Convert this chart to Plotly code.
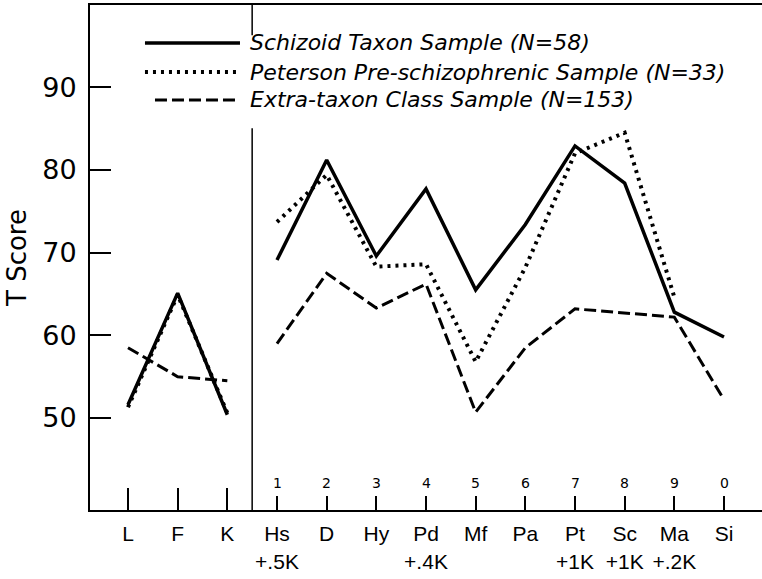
import plotly.graph_objects as go

# ---- data ----
scales = ["L", "F", "K", "Hs", "D", "Hy", "Pd", "Mf", "Pa", "Pt", "Sc", "Ma", "Si"]
k_corr = ["", "", "", "+.5K", "", "", "+.4K", "", "", "+1K", "+1K", "+.2K", ""]
scale_nums = ["", "", "", "1", "2", "3", "4", "5", "6", "7", "8", "9", "0"]
y_ticks = [50, 60, 70, 80, 90]

schizoid = [51.6, 65.1, 50.4, 69.1, 81.2, 69.6, 77.7, 65.5, 73.4, 82.9, 78.4, 62.8, 59.8]
peterson = [51.3, 64.9, 50.6, 73.7, 79.4, 68.3, 68.6, 56.8, 68.2, 82.0, 84.5, 64.6, None]
extra = [58.5, 55.0, 54.5, 59.0, 67.5, 63.3, 66.2, 50.7, 58.5, 63.2, 62.7, 62.2, 52.2]

series_names = [
    "Schizoid Taxon Sample (N=58)",
    "Peterson Pre-schizophrenic Sample (N=33)",
    "Extra-taxon Class Sample (N=153)",
]
series_values = [schizoid, peterson, extra]
series_dash = ["solid", "3px,5px", "12px,5px"]
series_width = [3.5, 4, 3]

n_validity = 3  # L, F, K are plotted separately from the clinical scales

xs = list(range(len(scales)))
tick_text = [s if not k else f"{s}<br>{k}" for s, k in zip(scales, k_corr)]

fig = go.Figure()
for name, vals, dash, w in zip(series_names, series_values, series_dash, series_width):
    for lo, hi in ((0, n_validity), (n_validity, len(scales))):
        px = [x for x, v in zip(xs[lo:hi], vals[lo:hi]) if v is not None]
        py = [v for v in vals[lo:hi] if v is not None]
        fig.add_trace(go.Scatter(
            x=px, y=py, mode="lines", name=name, showlegend=False,
            line=dict(color="black", width=w, dash=dash),
        ))

# scale numbers above the short ticks
annotations = []
for x, num in zip(xs, scale_nums):
    if num:
        annotations.append(dict(
            x=x, xref="x", y=0, yref="paper", yanchor="bottom", yshift=17,
            text=num, showarrow=False,
            font=dict(family="DejaVu Sans", size=14, color="black"),
        ))

shapes = []
# divider between validity and clinical scales
shapes.append(dict(type="line", xref="x", yref="paper",
                   x0=(n_validity - 1) + 0.5, x1=(n_validity - 1) + 0.5, y0=0, y1=1,
                   line=dict(color="black", width=1.5), layer="above"))
# legend background
shapes.append(dict(type="rect", xref="paper", yref="paper",
                   x0=0.074, x1=0.975, y0=0.756, y1=0.94,
                   fillcolor="white", line=dict(width=0), layer="above"))

# hand-drawn style legend
leg_y = [0.9248, 0.8673, 0.8119]
leg_x0 = [0.0818, 0.0818, 0.0967]
for name, dash, w, yy, x0 in zip(series_names, series_dash, series_width, leg_y, leg_x0):
    shapes.append(dict(type="line", xref="paper", yref="paper",
                       x0=x0, x1=0.2232, y0=yy, y1=yy,
                       line=dict(color="black", width=w, dash=dash), layer="above"))
    annotations.append(dict(
        x=0.2351, xref="paper", y=yy, yref="paper", xanchor="left", yanchor="middle",
        text=name, showarrow=False,
        font=dict(family="DejaVu Sans", size=22, color="black", style="italic"),
    ))

fig.update_layout(
    width=762, height=579,
    margin=dict(l=90, r=0, t=5, b=69, autoexpand=False),
    paper_bgcolor="white", plot_bgcolor="white",
    showlegend=False,
    shapes=shapes, annotations=annotations,
    xaxis=dict(
        range=[-0.765, 12.765], tickmode="array", tickvals=xs, ticktext=tick_text,
        tickangle=0, automargin=False, ticklabelstandoff=4,
        ticks="inside", ticklen=14, tickwidth=1.5, tickcolor="black",
        showline=True, linecolor="black", linewidth=2, mirror=True,
        showgrid=False, zeroline=False,
        tickfont=dict(family="Liberation Sans", size=21, color="black"),
    ),
    xaxis2=dict(
        overlaying="x", matches="x", range=[-0.765, 12.765], automargin=False,
        tickmode="array", tickvals=xs[:n_validity], ticktext=["" for _ in range(n_validity)],
        ticks="inside", ticklen=22, tickwidth=1.5, tickcolor="black",
        showticklabels=False, showgrid=False, zeroline=False, showline=False,
    ),
    yaxis=dict(
        range=[38.88, 99.94], tickmode="array", tickvals=y_ticks, automargin=False,
        ticks="inside", ticklen=21, tickwidth=1.5, tickcolor="black",
        showline=True, linecolor="black", linewidth=2, mirror=False,
        showgrid=False, zeroline=False, ticklabelstandoff=6,
        tickfont=dict(family="DejaVu Sans", size=27, color="black"),
        title=dict(text="T Score", standoff=8,
                   font=dict(family="DejaVu Sans", size=26, color="black")),
    ),
)
# invisible trace so the overlay axis is drawn
fig.add_trace(go.Scatter(x=[0], y=[None], xaxis="x2", showlegend=False, hoverinfo="skip"))

fig.write_html("out.html", config={"displayModeBar": False},
               post_script="document.body.style.margin='0';")
